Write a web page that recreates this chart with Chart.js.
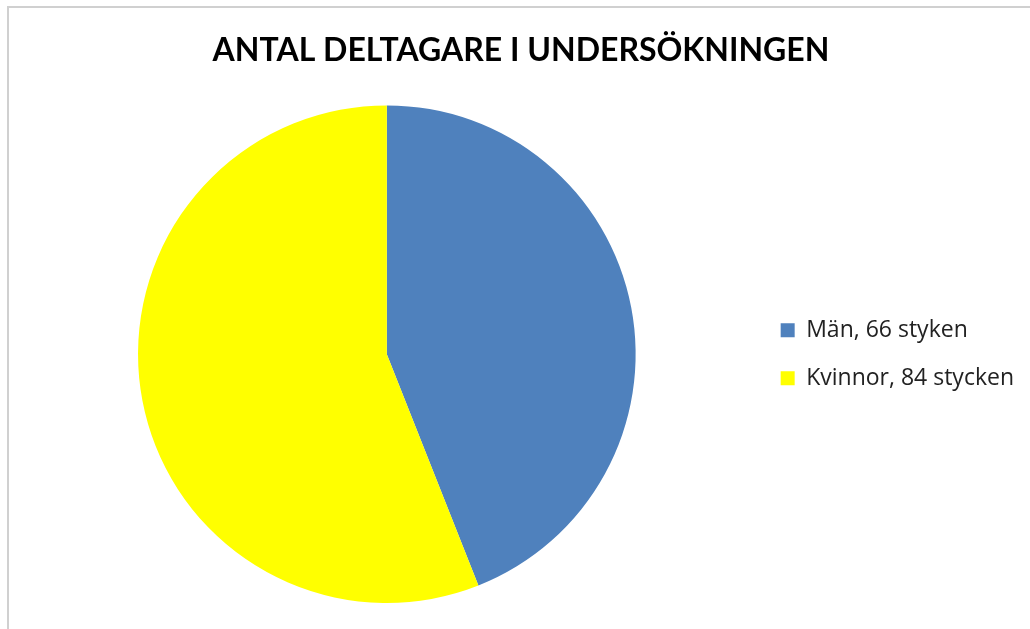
<!DOCTYPE html>
<html>
<head>
    <meta charset="UTF-8">
    <title>Antal deltagare</title>
    <script src="https://cdn.jsdelivr.net/npm/chart.js"></script>
    <style>
        html, body {
            margin: 0;
            padding: 0;
            background: white;
        }
        .frame {
            position: absolute;
            left: 7px;
            top: 6px;
            width: 1100px;
            height: 700px;
            border-left: 2px solid #d0d0d0;
            border-top: 2px solid #d0d0d0;
        }
        .wrap {
            position: absolute;
            left: 0;
            top: 0;
            width: 1030px;
            height: 629px;
        }
    </style>
</head>
<body>
    <div class="frame"></div>
    <div class="wrap">
        <canvas id="pieChart" width="1030" height="629"></canvas>
    </div>

    <script>
        // deltagare per kön
        const labels = ['Män, 66 styken', 'Kvinnor, 84 stycken'];
        const counts = [66, 84];
        const colors = ['#4f81bd', '#ffff00'];

        const ctx = document.getElementById('pieChart');

        const pieChart = new Chart(ctx, {
            type: 'pie',
            data: {
                labels: labels,
                datasets: [{
                    data: counts,
                    backgroundColor: colors,
                    borderWidth: 0
                }]
            },
            options: {
                responsive: false,
                animation: false,
                layout: {
                    padding: { left: 18, right: 6, top: 0, bottom: 26 }
                },
                plugins: {
                    title: {
                        display: true,
                        text: 'ANTAL DELTAGARE I UNDERSÖKNINGEN',
                        color: '#000000',
                        font: { family: 'Lato', size: 32, weight: 'bold' },
                        padding: { top: 31, bottom: 36 }
                    },
                    legend: {
                        position: 'right',
                        fullSize: false,
                        labels: {
                            boxWidth: 14,
                            boxHeight: 14,
                            padding: 25,
                            color: '#222222',
                            font: { family: 'Open Sans', size: 23 }
                        }
                    },
                    tooltip: { enabled: false }
                }
            }
        });
    </script>
</body>
</html>
